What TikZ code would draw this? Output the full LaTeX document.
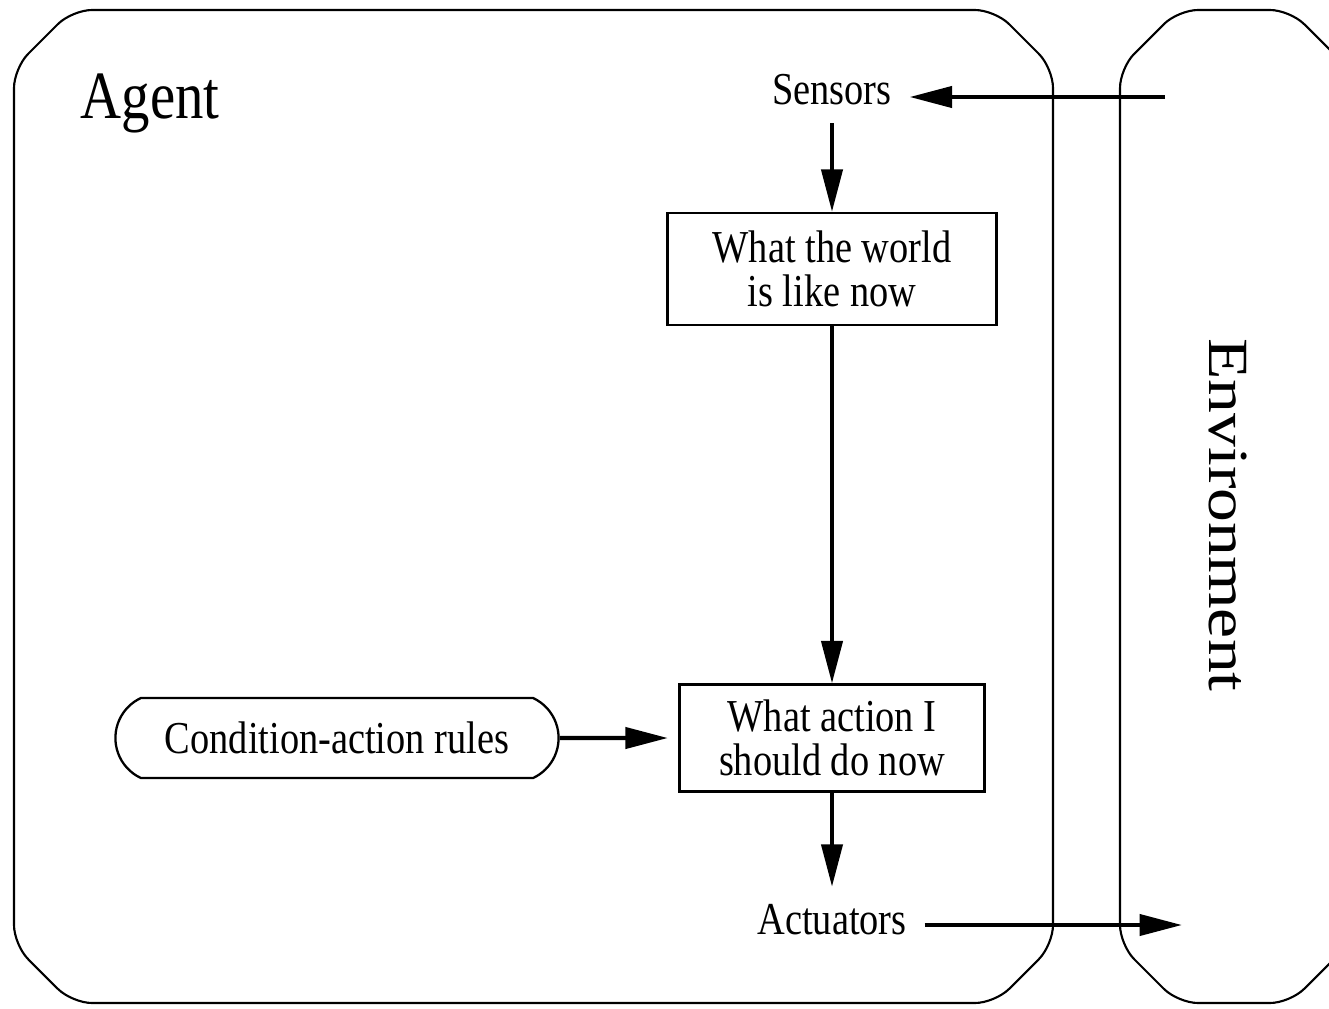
\documentclass[tikz,border=0pt]{standalone}
\usepackage{fontspec}
\setmainfont{Liberation Serif}[FakeStretch=0.84]
\newfontfamily\envfont{Liberation Serif}
\usetikzlibrary{arrows.meta,shapes.misc}

\begin{document}
\begin{tikzpicture}[x=0.02cm,y=-0.02cm]
				\tikzset{every node/.style={font=\fontsize{26}{25}\selectfont},
					box/.style={draw, rectangle, line width=1.3pt, align=center},
					rulebox/.style={draw, rounded rectangle, rounded rectangle arc length=130, line width=1.3pt},
					port/.style={inner sep=10pt},
					flow/.style={-{Triangle[length=0.85cm,width=0.42cm]}, line width=2.4pt},
					frame/.style={line width=1.2pt, rounded corners=0.4cm}}
				\useasboundingbox (0,0) rectangle (1329,1008);
				\clip (0,0) rectangle (1329,1008);

				% agent and environment
				\draw[frame] (14,68) -- (72,10) -- (995,10) -- (1053,68) -- (1053,945) -- (995,1003) -- (72,1003) -- (14,945) -- cycle;
				\draw[frame] (1120,68) -- (1178,10) -- (1290,10) -- (1348,68) -- (1348,945) -- (1290,1003) -- (1178,1003) -- (1120,945) -- cycle;
				\node (agent) at (150,103) [font=\fontsize{38.5}{40}\selectfont] {Agent};
				\node (env) at (1228,515) [rotate=-90] {\fontsize{38.5}{40}\envfont\scalebox{1}[0.84]{Environment}};

				\node (sensors) at (832,90) [port] {Sensors};
				\node (world) at (832,269) [box, minimum width=6.58cm, minimum height=2.24cm] {What the world\\is like now};
				\node (action) at (832,738) [box, minimum width=6.1cm, minimum height=2.14cm] {What action I\\should do now};
				\node (rules) at (337,738) [rulebox, minimum width=9.1cm, minimum height=1.6cm] {Condition-action rules};
				\node (actuators) at (832,920) [port] {Actuators};
				\coordinate (percept) at (1165,97);
				\coordinate (effect) at (1182,925);

				\draw[flow] (percept) to[] (sensors.east |- percept);
				\draw[flow] (sensors) to[] (world);
				\draw[flow] (world) to[] (action);
				\draw[flow, shorten >=6pt] (rules) to[] (action);
				\draw[flow] (action) to[] (actuators);
				\draw[flow] (actuators.east |- effect) to[] (effect);
			\end{tikzpicture}
\end{document}
